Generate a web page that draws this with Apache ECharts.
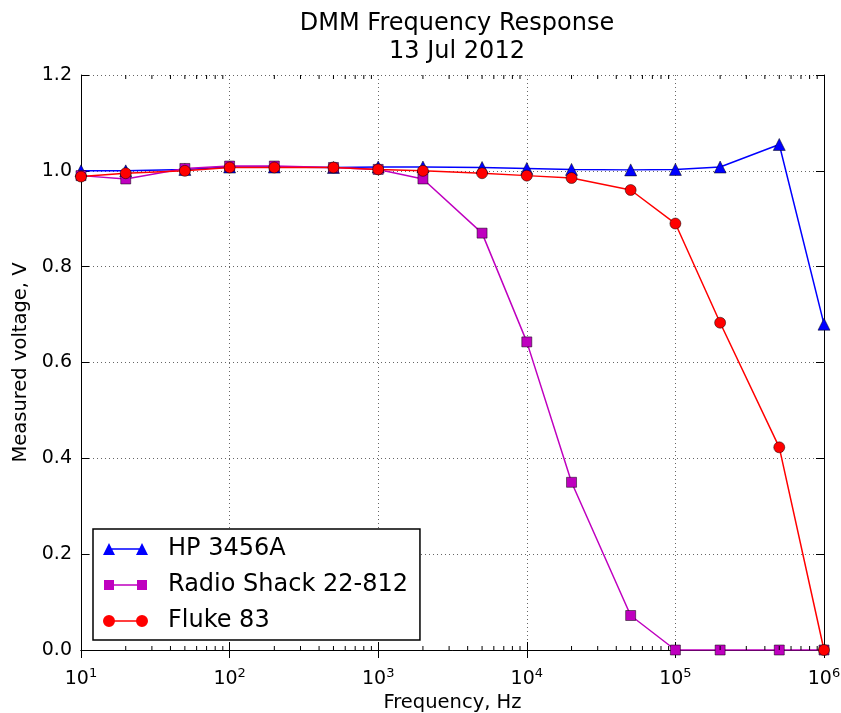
<!DOCTYPE html>
<html>
<head>
<meta charset="utf-8">
<script src="https://cdn.jsdelivr.net/npm/echarts@6/dist/echarts.min.js"></script>
<style>html,body{margin:0;padding:0;background:#fff;}#c{width:841px;height:713px;}</style>
</head>
<body>
<div id="c"></div>
<script>
const freqs = [10, 20, 50, 100, 200, 500, 1000, 2000, 5000, 10000, 20000, 50000, 100000, 200000, 500000, 1000000];
const hp3456a = [1.000, 1.000, 1.003, 1.008, 1.008, 1.007, 1.008, 1.008, 1.007, 1.005, 1.003, 1.002, 1.003, 1.008, 1.055, 0.680];
const radioShack = [0.990, 0.983, 1.005, 1.010, 1.010, 1.007, 1.003, 0.983, 0.870, 0.643, 0.350, 0.072, 0.000, 0.000, 0.000, 0.000];
const fluke83 = [0.988, 0.995, 1.000, 1.007, 1.007, 1.007, 1.003, 1.000, 0.995, 0.990, 0.985, 0.960, 0.890, 0.683, 0.423, 0.000];
const seriesNames = ['HP 3456A', 'Radio Shack 22-812', 'Fluke 83'];
const yTicks = [0.0, 0.2, 0.4, 0.6, 0.8, 1.0, 1.2];
const minorFreqs = [];
for (let e = 1; e < 6; e++) for (let m = 2; m < 10; m++) minorFreqs.push(m * Math.pow(10, e));

const FONT = 'DejaVu Sans';
const pairs = arr => freqs.map((f, i) => [f, arr[i]]);
const lineRect = ' M6 5.2 L39 5.2 L39 6.8 L6 6.8 Z';
const legendIcons = [
  'path://M0 12 L6 0 L12 12 Z' + lineRect + ' M33 12 L39 0 L45 12 Z',
  'path://M1 1 L11 1 L11 11 L1 11 Z' + lineRect + ' M34 1 L44 1 L44 11 L34 11 Z M0 0 L0.01 0 L0.01 0.01 Z M45 12 L44.99 12 L44.99 11.99 Z',
  'path://M0 6 A6 6 0 1 1 12 6 A6 6 0 1 1 0 6 Z' + lineRect + ' M33 6 A6 6 0 1 1 45 6 A6 6 0 1 1 33 6 Z'
];

const chart = echarts.init(document.getElementById('c'));
const gridLine = {show: true, lineStyle: {color: '#000', type: [1, 3], width: 1, opacity: 0.6}};
chart.setOption({
  animation: false,
  backgroundColor: '#fff',
  title: {
    text: 'DMM Frequency Response\n13 Jul 2012',
    left: 452, textAlign: 'center', top: 5,
    textStyle: {fontFamily: FONT, fontSize: 24, fontWeight: 'normal', color: '#000', lineHeight: 28}
  },
  grid: {left: 81, right: 17, top: 75, bottom: 63, containLabel: false, outerBoundsMode: 'none'},
  legend: {
    data: seriesNames.map((n, i) => ({name: n, icon: legendIcons[i]})),
    orient: 'vertical', left: 93, top: 529,
    padding: [6, 12, 5, 10],
    itemGap: 8, itemWidth: 45, itemHeight: 12,
    borderColor: '#000', borderWidth: 1.5, backgroundColor: '#fff',
    itemStyle: {borderWidth: 0},
    textStyle: {fontFamily: FONT, fontSize: 24, color: '#000', padding: [0, 0, 0, 15], lineHeight: 28}
  },
  xAxis: [{
    type: 'log', logBase: 10, min: 10, max: 1000000,
    name: 'Frequency, Hz', nameLocation: 'middle', nameGap: 41,
    nameTextStyle: {fontFamily: FONT, fontSize: 19.5, color: '#000'},
    axisLine: {show: true, lineStyle: {color: '#000', width: 1}},
    axisTick: {show: true, inside: true, length: 8, lineStyle: {color: '#000'}},
    axisLabel: {
      margin: 17,
      formatter: v => '{b|10}{s|' + Math.round(Math.log10(v)) + '}',
      rich: {
        b: {fontFamily: FONT, fontSize: 19, color: '#000'},
        s: {fontFamily: FONT, fontSize: 13, color: '#000', verticalAlign: 'top', padding: [0, 0, 11, 0]}
      }
    },
    splitLine: gridLine
  }, {
    type: 'log', logBase: 10, min: 10, max: 1000000, position: 'top',
    axisLine: {show: true, lineStyle: {color: '#000', width: 1}},
    axisTick: {show: true, inside: true, length: 8, lineStyle: {color: '#000'}},
    axisLabel: {show: false}, splitLine: {show: false}
  }],
  yAxis: [{
    type: 'value', min: 0, max: 1.2, interval: 0.2,
    name: 'Measured voltage, V', nameLocation: 'middle', nameGap: 43,
    nameTextStyle: {fontFamily: FONT, fontSize: 19.5, color: '#000'},
    axisLine: {show: true, lineStyle: {color: '#000', width: 1}},
    axisTick: {show: true, inside: true, length: 8, lineStyle: {color: '#000'}},
    axisLabel: {margin: 9, fontFamily: FONT, fontSize: 19, color: '#000', formatter: v => v.toFixed(1)},
    splitLine: gridLine
  }, {
    type: 'value', min: 0, max: 1.2, interval: 0.2, position: 'right',
    axisLine: {show: true, lineStyle: {color: '#000', width: 1}},
    axisTick: {show: true, inside: true, length: 8, lineStyle: {color: '#000'}},
    axisLabel: {show: false}, splitLine: {show: false}
  }],
  series: [{
    name: seriesNames[0], type: 'line', data: pairs(hp3456a),
    symbol: 'triangle', symbolSize: 12, clip: true,
    lineStyle: {color: '#0000ff', width: 1.5},
    itemStyle: {color: '#0000ff', borderColor: '#000', borderWidth: 0.5}
  }, {
    name: seriesNames[1], type: 'line', data: pairs(radioShack),
    symbol: 'rect', symbolSize: 10, clip: true,
    lineStyle: {color: '#bf00bf', width: 1.5},
    itemStyle: {color: '#bf00bf', borderColor: '#000', borderWidth: 0.5}
  }, {
    name: seriesNames[2], type: 'line', data: pairs(fluke83),
    symbol: 'circle', symbolSize: 11, clip: true,
    lineStyle: {color: '#ff0000', width: 1.5},
    itemStyle: {color: '#ff0000', borderColor: '#000', borderWidth: 0.5}
  }, {
    type: 'custom', silent: true, z: 5,
    data: minorFreqs.map(f => [f]),
    encode: {x: 0},
    renderItem: (params, api) => {
      const x = api.value(0);
      const b = api.coord([x, 0]);
      const t = api.coord([x, 1.2]);
      const style = {stroke: '#000', lineWidth: 1};
      return {type: 'group', children: [
        {type: 'line', shape: {x1: b[0], y1: b[1], x2: b[0], y2: b[1] - 4}, style},
        {type: 'line', shape: {x1: t[0], y1: t[1], x2: t[0], y2: t[1] + 4}, style}
      ]};
    }
  }]
});
</script>
</body>
</html>
